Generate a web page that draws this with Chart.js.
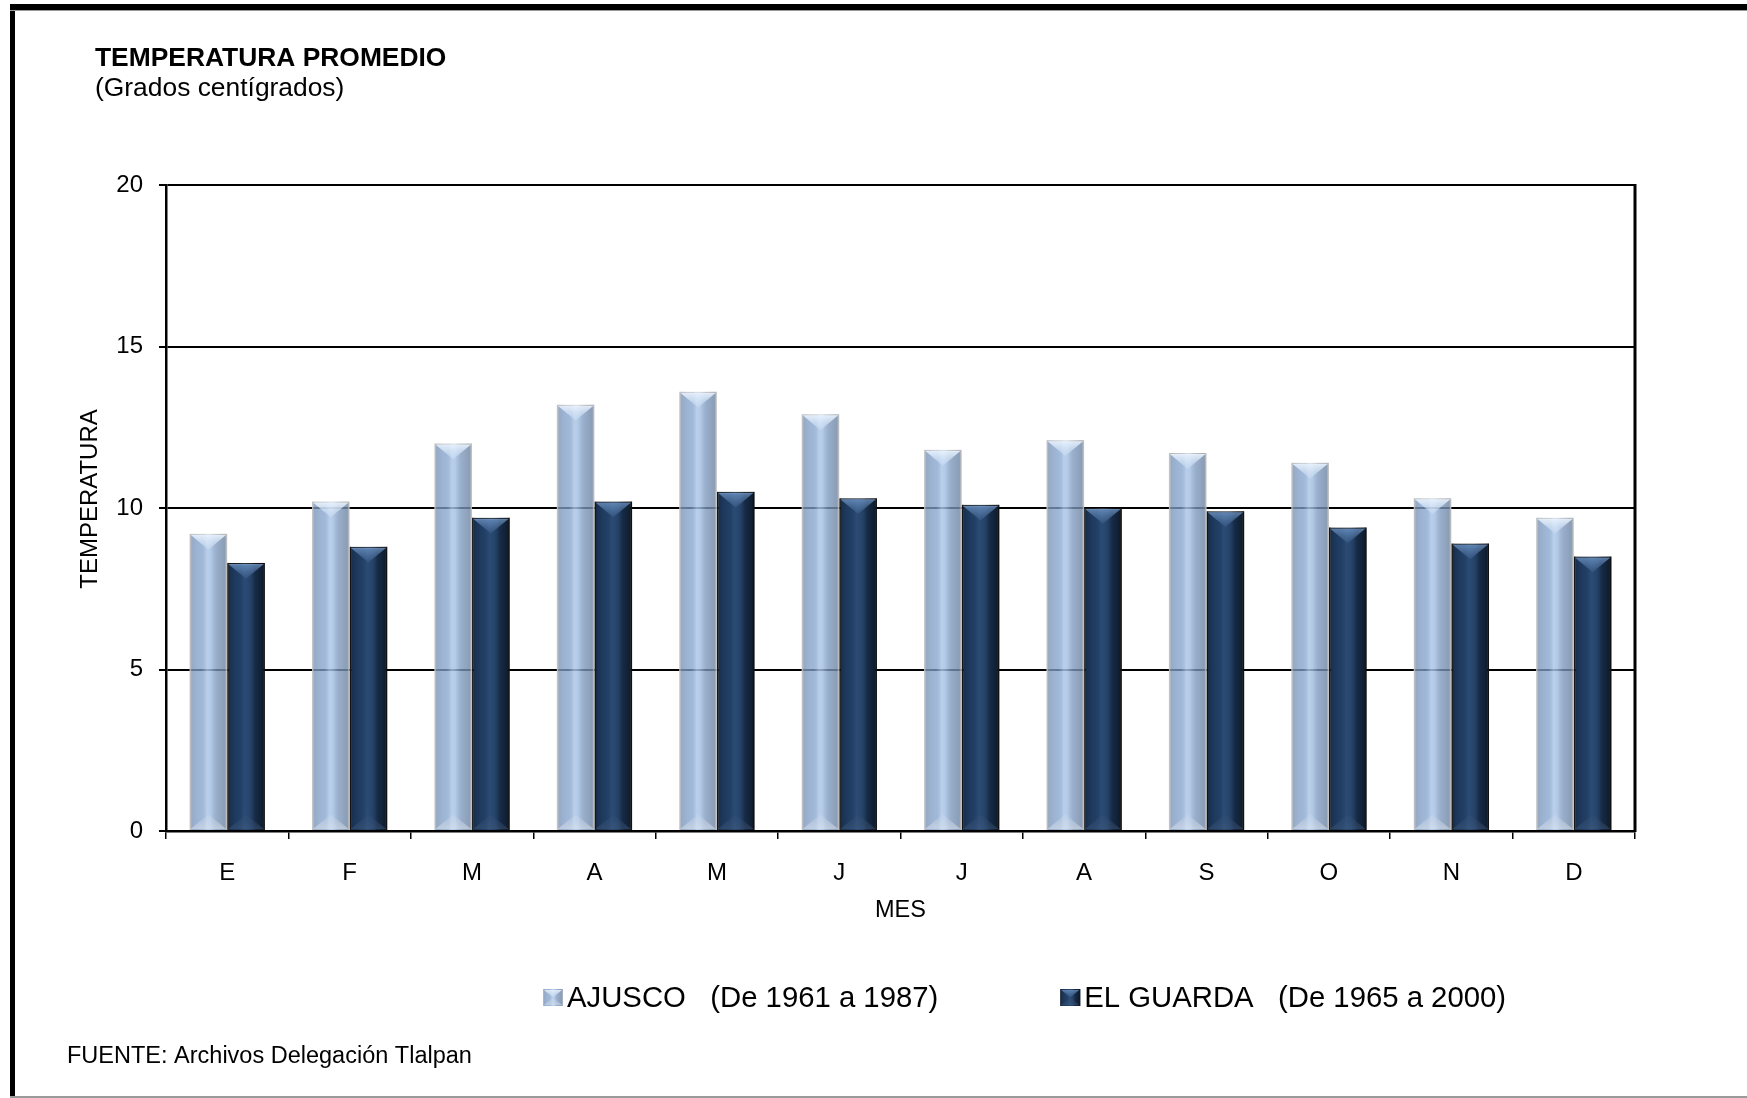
<!DOCTYPE html>
<html lang="es">
<head>
<meta charset="utf-8">
<title>Temperatura promedio</title>
<script src="https://cdn.jsdelivr.net/npm/chart.js@4.4.1/dist/chart.umd.min.js"></script>
<style>
  html, body { margin: 0; padding: 0; background: #ffffff; }
  #lienzo { display: block; }
</style>
</head>
<body>
<canvas id="lienzo" width="1747" height="1098"></canvas>
<script>
// Datos: temperatura media mensual (°C)
const meses = ['E', 'F', 'M', 'A', 'M', 'J', 'J', 'A', 'S', 'O', 'N', 'D'];
const ajusco = [9.2, 10.2, 12.0, 13.2, 13.6, 12.9, 11.8, 12.1, 11.7, 11.4, 10.3, 9.7];
const elGuarda = [8.3, 8.8, 9.7, 10.2, 10.5, 10.3, 10.1, 10.0, 9.9, 9.4, 8.9, 8.5];
const etiquetasSeries = ['AJUSCO   (De 1961 a 1987)', 'EL GUARDA   (De 1965 a 2000)'];
const marcasY = [0, 5, 10, 15, 20];

const titulo = 'TEMPERATURA PROMEDIO';
const subtitulo = '(Grados centígrados)';
const nota = 'FUENTE: Archivos Delegación Tlalpan';
const tituloEjeY = 'TEMPERATURA';
const tituloEjeX = 'MES';

const FAMILIA = '"Liberation Sans", Arial, Helvetica, sans-serif';

// Acabado biselado de cada serie (capas semitransparentes sobre el relleno base)
const acabados = [
  {
    lados: [[0, 'rgba(205,205,205,0.75)'], [0.07, 'rgba(120,132,150,0.30)'], [0.30, 'rgba(130,145,170,0.10)'],
            [0.46, 'rgba(215,234,255,0.42)'], [0.56, 'rgba(215,234,255,0.32)'], [0.72, 'rgba(110,120,135,0.22)'],
            [0.93, 'rgba(100,108,120,0.38)'], [1, 'rgba(205,205,205,0.75)']],
    tapa: ['rgba(238,246,255,0.92)', 'rgba(210,228,250,0.35)'],
    pie: ['rgba(225,230,238,0.55)', 'rgba(225,230,238,0.10)']
  },
  {
    lados: [[0, 'rgba(25,25,25,0.85)'], [0.07, 'rgba(0,0,0,0.18)'], [0.30, 'rgba(40,70,110,0.10)'],
            [0.46, 'rgba(90,130,180,0.22)'], [0.56, 'rgba(90,130,180,0.15)'], [0.74, 'rgba(0,0,0,0.28)'],
            [0.93, 'rgba(0,0,0,0.50)'], [1, 'rgba(20,20,20,0.92)']],
    tapa: ['rgba(120,160,210,0.75)', 'rgba(110,150,200,0.12)'],
    pie: ['rgba(70,95,130,0.45)', 'rgba(70,95,130,0.05)']
  }
];

function pintarBisel(ctx, x0, y0, x1, y1, acabado) {
  const w = x1 - x0;
  const h = y1 - y0;
  if (w <= 0 || h <= 0) return;
  const xc = (x0 + x1) / 2;
  const d = Math.min(w * 0.42, h / 2);

  const g = ctx.createLinearGradient(x0, 0, x1, 0);
  acabado.lados.forEach(([p, c]) => g.addColorStop(p, c));
  ctx.fillStyle = g;
  ctx.fillRect(x0, y0, w, h);

  const gt = ctx.createLinearGradient(0, y0, 0, y0 + d);
  gt.addColorStop(0, acabado.tapa[0]);
  gt.addColorStop(1, acabado.tapa[1]);
  ctx.fillStyle = gt;
  ctx.beginPath();
  ctx.moveTo(x0 + 1, y0 + 1);
  ctx.lineTo(x1 - 1, y0 + 1);
  ctx.lineTo(xc, y0 + d);
  ctx.closePath();
  ctx.fill();

  const gp = ctx.createLinearGradient(0, y1, 0, y1 - d);
  gp.addColorStop(0, acabado.pie[0]);
  gp.addColorStop(1, acabado.pie[1]);
  ctx.fillStyle = gp;
  ctx.beginPath();
  ctx.moveTo(x0 + 1, y1 - 1);
  ctx.lineTo(x1 - 1, y1 - 1);
  ctx.lineTo(xc, y1 - d);
  ctx.closePath();
  ctx.fill();
}

// Fondo blanco del lienzo
const fondo = {
  id: 'fondo',
  beforeDraw(chart) {
    const { ctx, width, height } = chart;
    ctx.save();
    ctx.fillStyle = '#ffffff';
    ctx.fillRect(0, 0, width, height);
    ctx.restore();
  }
};

// Bisel sobre cada barra dibujada por Chart.js
const bisel = {
  id: 'bisel',
  afterDatasetDraw(chart, args) {
    const acabado = acabados[args.index];
    if (!acabado) return;
    const ctx = chart.ctx;
    ctx.save();
    args.meta.data.forEach(barra => {
      const { x, y, base, width } = barra.getProps(['x', 'y', 'base', 'width'], true);
      pintarBisel(ctx, x - width / 2, Math.min(y, base), x + width / 2, Math.max(y, base), acabado);
    });
    ctx.restore();
  }
};

// Borde derecho del área de trazado
const marcoArea = {
  id: 'marcoArea',
  beforeDatasetsDraw(chart) {
    const { ctx, chartArea } = chart;
    ctx.save();
    ctx.strokeStyle = '#000000';
    ctx.lineWidth = 3;
    ctx.beginPath();
    ctx.moveTo(chartArea.right, chartArea.top - 1);
    ctx.lineTo(chartArea.right, chartArea.bottom + 1);
    ctx.stroke();
    ctx.restore();
  }
};

// Títulos, rótulo del eje vertical, leyenda, nota de fuente y recuadro exterior
const rotulos = {
  id: 'rotulos',
  afterDraw(chart) {
    const { ctx, width, height } = chart;
    ctx.save();

    // recuadro exterior
    ctx.fillStyle = '#000000';
    ctx.fillRect(10, 4, width - 10, 6);
    ctx.fillRect(10, 4, 5, height - 4);
    ctx.fillStyle = '#9a9a9a';
    ctx.fillRect(10, 10, width - 10, 1);
    ctx.fillRect(10, height - 2, width - 10, 2);

    ctx.fillStyle = '#000000';
    ctx.textAlign = 'left';
    ctx.textBaseline = 'alphabetic';
    ctx.font = 'bold 26.4px ' + FAMILIA;
    ctx.fillText(titulo, 95, 66);
    ctx.font = '26.4px ' + FAMILIA;
    ctx.fillText(subtitulo, 95, 96);

    ctx.font = '23.5px ' + FAMILIA;
    ctx.textBaseline = 'middle';
    ctx.fillText(nota, 67, 1057);

    // rótulo del eje vertical
    ctx.save();
    ctx.translate(90, 499);
    ctx.rotate(-Math.PI / 2);
    ctx.textAlign = 'center';
    ctx.textBaseline = 'middle';
    ctx.font = '24px ' + FAMILIA;
    ctx.fillText(tituloEjeY, 0, 0);
    ctx.restore();

    // leyenda
    ctx.font = '29.3px ' + FAMILIA;
    ctx.textAlign = 'left';
    const yc = 998;
    let x = 543;
    chart.data.datasets.forEach((ds, i) => {
      const x0 = x, y0 = yc - 9, x1 = x + 20, y1 = yc + 8;
      ctx.fillStyle = ds.backgroundColor;
      ctx.fillRect(x0, y0, x1 - x0, y1 - y0);
      pintarBisel(ctx, x0, y0, x1, y1, acabados[i]);
      ctx.fillStyle = '#000000';
      ctx.textBaseline = 'middle';
      ctx.fillText(ds.label, x1 + 4, yc + 1);
      x = x1 + 4 + ctx.measureText(ds.label).width + 122;
    });

    ctx.restore();
  }
};

const ctx = document.getElementById('lienzo').getContext('2d');
new Chart(ctx, {
  type: 'bar',
  data: {
    labels: meses,
    datasets: [
      {
        label: etiquetasSeries[0],
        data: ajusco,
        backgroundColor: 'rgba(128,162,208,0.72)',
        borderColor: 'rgba(196,196,196,0.85)',
        borderWidth: 1.5,
        categoryPercentage: 0.615,
        barPercentage: 1.0
      },
      {
        label: etiquetasSeries[1],
        data: elGuarda,
        backgroundColor: '#1f3c62',
        borderColor: '#1a1a1a',
        borderWidth: 1.5,
        categoryPercentage: 0.615,
        barPercentage: 1.0
      }
    ]
  },
  options: {
    responsive: false,
    maintainAspectRatio: false,
    devicePixelRatio: 1,
    animation: false,
    layout: { padding: { left: 60, right: 112, top: 185, bottom: 167 } },
    plugins: {
      legend: { display: false },
      title: { display: false },
      tooltip: { enabled: false }
    },
    scales: {
      x: {
        offset: true,
        afterFit(escala) { escala.height = 100; },
        grid: {
          display: true,
          offset: true,
          drawOnChartArea: false,
          drawTicks: true,
          tickLength: 8,
          color: '#000000',
          lineWidth: 1.5
        },
        border: { display: true, color: '#000000', width: 2.5 },
        ticks: {
          color: '#000000',
          padding: 20,
          font: { family: FAMILIA, size: 24 },
          maxRotation: 0,
          autoSkip: false
        },
        title: {
          display: true,
          text: tituloEjeX,
          color: '#000000',
          font: { family: FAMILIA, size: 23.5 },
          padding: { top: 0, bottom: 6 }
        }
      },
      y: {
        min: marcasY[0],
        max: marcasY[marcasY.length - 1],
        afterFit(escala) { escala.width = 106; },
        afterBuildTicks(escala) { escala.ticks = marcasY.map(v => ({ value: v })); },
        grid: {
          color: '#000000',
          lineWidth: 2,
          drawTicks: true,
          tickLength: 7
        },
        border: { display: true, color: '#000000', width: 2.5 },
        ticks: {
          color: '#000000',
          padding: 16,
          font: { family: FAMILIA, size: 24 }
        },
        title: { display: false }
      }
    }
  },
  plugins: [fondo, marcoArea, bisel, rotulos]
});
</script>
</body>
</html>
